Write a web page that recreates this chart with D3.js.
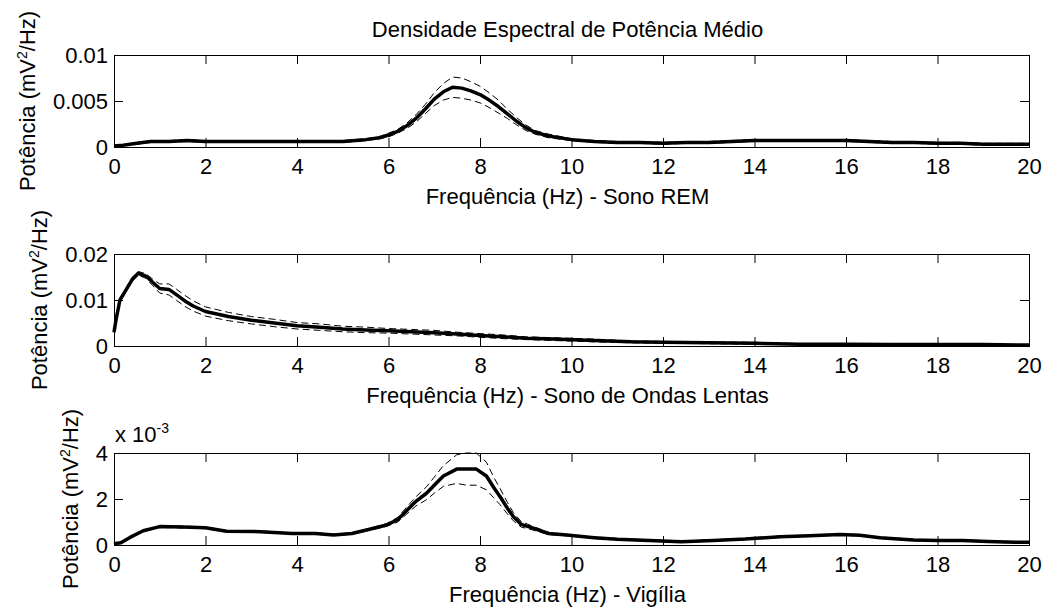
<!DOCTYPE html>
<html>
<head>
<meta charset="utf-8">
<script src="https://cdn.jsdelivr.net/npm/d3@7"></script>
<style>
  html, body { margin: 0; padding: 0; background: #fff; }
  svg { display: block; }
  text { font-family: "Liberation Sans", Arial, Helvetica, sans-serif; fill: #000; }
</style>
</head>
<body>
<svg id="chart" width="1044" height="611"></svg>
<script>
// Mean power spectral density (mV^2/Hz) per sleep/wake state, with ± one standard deviation.

const title = "Densidade Espectral de Potência Médio";
const yLabelMain = "Potência (mV";
const yLabelTail = "/Hz)";
const xTicks = [0, 2, 4, 6, 8, 10, 12, 14, 16, 18, 20];

// REM sleep
const remFreq = [0, 0.2, 0.5, 0.8, 1.2, 1.6, 2, 3, 4, 5,
  5.5, 5.8, 6, 6.2, 6.4, 6.6, 6.8, 7, 7.2, 7.4, 7.6, 7.8, 8, 8.2, 8.4, 8.6, 8.8, 9, 9.2, 9.5,
  10, 10.5, 11, 11.5, 12, 12.5, 13, 13.5, 14, 14.5, 15, 15.5, 16, 16.5, 17, 17.5, 18, 18.5, 19, 19.5, 20];
const remMean = [0.0001, 0.0002, 0.0004, 0.0006, 0.0006, 0.0007, 0.0006, 0.0006, 0.0006, 0.0006,
  0.0008, 0.0010, 0.0013, 0.0017, 0.0023, 0.0031, 0.0041, 0.0052, 0.0060, 0.0065, 0.0064, 0.0061, 0.0057, 0.0051, 0.0044, 0.0036, 0.0028, 0.0021, 0.0016, 0.0012,
  0.0008, 0.0006, 0.0005, 0.0005, 0.0004, 0.0005, 0.0005, 0.0006, 0.0007, 0.0007, 0.0007, 0.0007, 0.0007, 0.0006, 0.0005, 0.0005, 0.0004, 0.0004, 0.0003, 0.0003, 0.0003];
const remSd = [0, 0, 0.0001, 0.0001, 0.0001, 0.0001, 0.0001, 0.0001, 0.0001, 0.0001,
  0.0001, 0.0001, 0.0002, 0.0002, 0.0003, 0.0004, 0.0005, 0.0007, 0.0009, 0.0011, 0.0011, 0.0010, 0.0009, 0.0008, 0.0007, 0.0005, 0.0004, 0.0003, 0.0002, 0.0002,
  0.0001, 0.0001, 0.0001, 0.0001, 0.0001, 0.0001, 0.0001, 0.0001, 0.0001, 0.0001, 0.0001, 0.0001, 0.0001, 0.0001, 0.0001, 0.0001, 0.0001, 0.0001, 0.0001, 0.0001, 0.0001];

// Slow-wave sleep
const swsFreq = [0, 0.05, 0.13, 0.25, 0.4, 0.53, 0.7, 0.85, 1.0, 1.2,
  1.37, 1.55, 1.73, 2.0, 2.5, 3.0, 3.5, 4.0, 4.5, 5.0,
  5.5, 6.0, 6.5, 7.0, 7.5, 8.0, 8.5, 9.0, 9.6, 10.5,
  11.3, 12.0, 13.0, 14.0, 15.0, 16.0, 17.0, 18.0, 19.0, 20.0];
const swsMean = [0.0030, 0.0060, 0.0100, 0.0120, 0.0145, 0.0158, 0.0152, 0.0138, 0.0125, 0.0123,
  0.0111, 0.0098, 0.0087, 0.0075, 0.0064, 0.0056, 0.0050, 0.0044, 0.0041, 0.0037,
  0.0035, 0.0033, 0.0031, 0.0029, 0.0026, 0.0023, 0.0020, 0.0017, 0.0015, 0.0012,
  0.0009, 0.0008, 0.0007, 0.0006, 0.0004, 0.0004, 0.0003, 0.0003, 0.0003, 0.0002];
const swsSd = [0, 0.0002, 0.0003, 0.0004, 0.0004, 0.0004, 0.0005, 0.0007, 0.0010, 0.0012,
  0.0012, 0.0012, 0.0011, 0.0010, 0.0009, 0.0008, 0.0008, 0.0007, 0.0007, 0.0006,
  0.0006, 0.0005, 0.0005, 0.0005, 0.0004, 0.0004, 0.0004, 0.0003, 0.0003, 0.0003,
  0.0002, 0.0002, 0.0002, 0.0002, 0.0001, 0.0001, 0.0001, 0.0001, 0.0001, 0.0001];

// Wakefulness
const wakeFreq = [0, 0.15, 0.35, 0.64, 1.0, 1.5, 2.0, 2.46, 3.2, 3.9,
  4.4, 4.8, 5.2, 5.52, 5.96, 6.2, 6.4, 6.6, 6.83, 7.0,
  7.2, 7.49, 7.7, 7.92, 8.14, 8.3, 8.44, 8.6, 8.73, 8.9,
  9.16, 9.5, 9.9, 10.5, 11.0, 11.7, 12.4, 13.1, 13.8, 14.56,
  15.2, 15.87, 16.3, 16.74, 17.47, 18.0, 18.56, 19.1, 19.7, 20];
const wakeMean = [0.00005, 0.0001, 0.00033, 0.00062, 0.0008, 0.00078, 0.00075, 0.0006, 0.00058, 0.0005,
  0.0005, 0.00044, 0.0005, 0.00065, 0.00087, 0.0011, 0.0015, 0.0019, 0.00225, 0.0026,
  0.0030, 0.0033, 0.0033, 0.0033, 0.0030, 0.0025, 0.0021, 0.0016, 0.00123, 0.0009,
  0.00073, 0.0005, 0.00043, 0.00032, 0.00025, 0.0002, 0.00014, 0.0002, 0.00026, 0.00036,
  0.0004, 0.00046, 0.00042, 0.00032, 0.00022, 0.0002, 0.0002, 0.00015, 0.00012, 0.00012];
const wakeSd = [0, 0, 0.00002, 0.00003, 0.00004, 0.00004, 0.00004, 0.00003, 0.00003, 0.00003,
  0.00003, 0.00003, 0.00003, 0.00004, 0.00006, 0.0001, 0.00015, 0.0002, 0.00028, 0.00035,
  0.00045, 0.00062, 0.0007, 0.0007, 0.0006, 0.00045, 0.00035, 0.00025, 0.00018, 0.00012,
  0.00008, 0.00005, 0.00003, 0.00003, 0.00003, 0.00003, 0.00003, 0.00003, 0.00003, 0.00003,
  0.00003, 0.00003, 0.00003, 0.00003, 0.00003, 0.00003, 0.00003, 0.00003, 0.00003, 0.00003];

const panels = [
  { freq: remFreq, mean: remMean, sd: remSd, yMax: 0.01, yTicks: [0, 0.005, 0.01],
    fmt: d => String(d), xLabel: "Frequência (Hz) - Sono REM", exponent: null },
  { freq: swsFreq, mean: swsMean, sd: swsSd, yMax: 0.02, yTicks: [0, 0.01, 0.02],
    fmt: d => String(d), xLabel: "Frequência (Hz) - Sono de Ondas Lentas", exponent: null },
  { freq: wakeFreq, mean: wakeMean, sd: wakeSd, yMax: 0.004, yTicks: [0, 0.002, 0.004],
    fmt: d => String(Math.round(d * 1000)), xLabel: "Frequência (Hz) - Vigília", exponent: "-3" }
];

// Layout
const svg = d3.select("#chart");
const left = 114, right = 1029, plotH = 92;
const tops = [55, 254, 453];
const fontSize = 22;
const supSize = 14;
const tickLen = 9;

const x = d3.scaleLinear().domain([0, 20]).range([left, right]);

svg.append("text")
  .attr("x", (left + right) / 2 - 4).attr("y", 37)
  .attr("text-anchor", "middle")
  .style("font-size", fontSize + "px")
  .text(title);

panels.forEach((p, i) => {
  const top = tops[i], bottom = top + plotH;
  const y = d3.scaleLinear().domain([0, p.yMax]).range([bottom, top]);
  const g = svg.append("g");

  // curves: mean (thick) and mean ± sd (dashed)
  const pts = p.freq.map((f, k) => ({ f, m: p.mean[k], s: p.sd[k] }));
  const lineOf = acc => d3.line().x(d => x(d.f)).y(d => y(acc(d)));
  g.append("path").datum(pts)
    .attr("d", lineOf(d => d.m + d.s))
    .attr("fill", "none").attr("stroke", "#000").attr("stroke-width", 1)
    .attr("stroke-dasharray", "7,4");
  g.append("path").datum(pts)
    .attr("d", lineOf(d => Math.max(0, d.m - d.s)))
    .attr("fill", "none").attr("stroke", "#000").attr("stroke-width", 1)
    .attr("stroke-dasharray", "7,4");
  g.append("path").datum(pts)
    .attr("d", lineOf(d => d.m))
    .attr("fill", "none").attr("stroke", "#000").attr("stroke-width", 3.5)
    .attr("stroke-linejoin", "round");

  // box axes with inward ticks
  const styleAxis = sel => {
    sel.select(".domain").remove();
    sel.selectAll("line").attr("stroke", "#000");
    sel.selectAll("text").style("font-size", fontSize + "px")
      .style("font-family", '"Liberation Sans", Arial, Helvetica, sans-serif');
  };
  g.append("g").attr("transform", `translate(0,${bottom})`)
    .call(d3.axisBottom(x).tickValues(xTicks).tickSizeInner(-tickLen).tickSizeOuter(0).tickPadding(11).tickFormat(d3.format("d")))
    .call(styleAxis);
  g.append("g").attr("transform", `translate(0,${top})`)
    .call(d3.axisTop(x).tickValues(xTicks).tickSizeInner(-tickLen).tickSizeOuter(0).tickFormat(""))
    .call(styleAxis);
  const yl = g.append("g").attr("transform", `translate(${left},0)`)
    .call(d3.axisLeft(y).tickValues(p.yTicks).tickSizeInner(-tickLen).tickSizeOuter(0).tickPadding(6).tickFormat(p.fmt))
    .call(styleAxis);
  g.append("g").attr("transform", `translate(${right},0)`)
    .call(d3.axisRight(y).tickValues(p.yTicks).tickSizeInner(-tickLen).tickSizeOuter(0).tickFormat(""))
    .call(styleAxis);

  g.append("rect")
    .attr("x", left + 0.5).attr("y", top + 0.5)
    .attr("width", right - left).attr("height", plotH)
    .attr("fill", "none").attr("stroke", "#000").attr("stroke-width", 1);

  // x label
  g.append("text")
    .attr("x", (left + right) / 2 - 4).attr("y", bottom + 57)
    .attr("text-anchor", "middle")
    .style("font-size", fontSize + "px")
    .text(p.xLabel);

  // y label placed left of the widest tick label
  let maxW = 0;
  yl.selectAll(".tick text").each(function () { maxW = Math.max(maxW, this.getComputedTextLength()); });
  const lx = left - 6 - maxW - 18;
  const ylab = g.append("text")
    .attr("transform", `translate(${lx},${(top + bottom) / 2}) rotate(-90)`)
    .attr("text-anchor", "middle")
    .style("font-size", fontSize + "px");
  ylab.append("tspan").text(yLabelMain);
  ylab.append("tspan").attr("dy", -8).style("font-size", supSize + "px").text("2");
  ylab.append("tspan").attr("dy", 8).text(yLabelTail);

  // axis exponent
  if (p.exponent) {
    const ex = g.append("text")
      .attr("x", left + 1).attr("y", top - 11)
      .style("font-size", fontSize + "px");
    ex.append("tspan").text("x 10");
    ex.append("tspan").attr("dy", -9).style("font-size", supSize + "px").text(p.exponent);
  }
});
</script>
</body>
</html>
